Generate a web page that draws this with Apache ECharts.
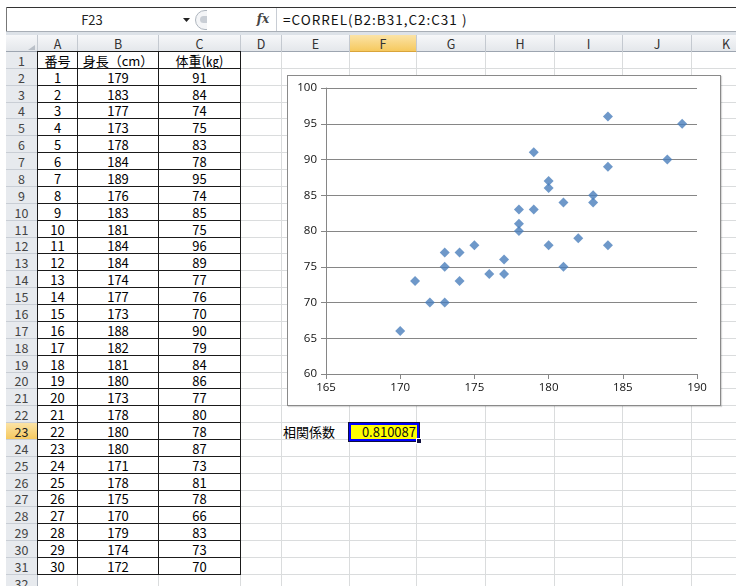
<!DOCTYPE html>
<html>
<head>
<meta charset="utf-8">
<script src="https://cdn.jsdelivr.net/npm/echarts/dist/echarts.min.js"></script>
<style>
body{margin:0;width:736px;height:586px;overflow:hidden;background:#fff;position:relative;
  font-family:"Noto Sans CJK JP","Noto Sans",sans-serif;color:#000}
.a{position:absolute;box-sizing:border-box;white-space:nowrap}
.c{display:flex;align-items:center;justify-content:center}
#chart{position:absolute;left:287px;top:75px;width:434px;height:331px;box-sizing:border-box;
  border:1px solid #8a8a8a;background:#fff;box-shadow:1px 1px 1px rgba(0,0,0,0.15)}
</style>
</head>
<body>
<div id="sheet"></div>
<div id="chart"></div>
<script>
// data
const ids = [1,2,3,4,5,6,7,8,9,10,11,12,13,14,15,16,17,18,19,20,21,22,23,24,25,26,27,28,29,30];
const heights = [179,183,177,173,178,184,189,176,183,181,184,184,174,177,173,188,182,181,180,173,178,180,180,171,178,175,170,179,174,172];
const weights = [91,84,74,75,83,78,95,74,85,75,96,89,77,76,70,90,79,84,86,77,80,78,87,73,81,78,66,83,73,70];
const headers = ['番号', '身長（cm）', '体重(㎏)'];
const colLetters = ['A','B','C','D','E','F','G','H','I','J','K'];
const xMin = 165, xMax = 190, xStep = 5;
const yMin = 60, yMax = 100, yStep = 5;
const nameBox = 'F23';
const formula = '=CORREL(B2:B31,C2:C31 )';
const correlLabel = '相関係数';
const correlValue = '0.810087';

// sheet layout
const colX = [38,78,159,241,282,350,417,486,555,623,692,761];
const rowTop = 52, rowH = 16.87;
const sheet = document.getElementById('sheet');
function box(x, y, w, h, css, text) {
    const d = document.createElement('div');
    d.className = 'a';
    d.style.cssText = `left:${x}px;top:${y}px;width:${w}px;height:${h}px;` + (css || '');
    if (text !== undefined) d.textContent = text;
    sheet.appendChild(d);
    return d;
}
const ry = r => Math.round(rowTop + (r - 1) * rowH);
const rh = r => ry(r + 1) - ry(r);

// formula bar
box(6, 7, 730, 1, 'background:#333');
box(6, 7, 1, 28, 'background:#777');
box(7, 8, 729, 23, 'background:#fff');
box(7, 8, 170, 23, 'font-size:13px;color:#222', nameBox).classList.add('c');
box(183, 18, 7, 4, 'clip-path:polygon(0 0,100% 0,50% 100%);background:#222');
box(195, 10, 22, 20, 'border:1px solid #aeb5be;border-radius:11px;background:#f4f5f7;clip-path:inset(0 45% 0 0)');
box(200, 16, 10, 7, 'border-radius:4px;background:#c9ced5;clip-path:inset(0 30% 0 0)');
box(255, 10, 16, 18, 'font-family:"DejaVu Serif",serif;font-style:italic;font-weight:bold;font-size:12px;color:#444', 'fx').classList.add('c');
box(276, 8, 1, 23, 'background:#c8cdd4');
box(283, 9, 300, 21, 'font-size:13.5px;line-height:21px;color:#111;letter-spacing:1px', formula);
box(6, 31, 730, 4, 'background:#dde2e8;border-top:1px solid #a8aeb6');

// column headers
box(6, 35, 730, 17, 'background:linear-gradient(#f6f7f9,#e4e7eb);border-bottom:1px solid #9da5b0');
box(6, 35, 32, 17, 'border-right:1px solid #c4c9d0');
box(28, 45, 7, 5, 'clip-path:polygon(100% 0,100% 100%,0 100%);background:#b9bfc7');
colLetters.forEach((L, i) => {
    const sel = L === 'F';
    const d = box(colX[i], 35, colX[i+1] - colX[i], 17,
        'font-size:12.5px;color:#333;border-right:1px solid #c4c9d0;' +
        (sel ? 'background:linear-gradient(#fbe3a6,#f6c95e);border-bottom:1px solid #d9a43a;' : ''), L);
    d.classList.add('c');
});

// gridlines
for (let r = 1; r <= 32; r++) {
    box(38, ry(r + 1) - 1, 698, 1, 'background:#dadcdd');
}
for (let i = 1; i < colX.length; i++) {
    box(colX[i] - 1, 52, 1, 534, 'background:#dadcdd');
}

// row headers
for (let r = 1; r <= 32; r++) {
    const sel = r === 23;
    const d = box(6, ry(r), 32, rh(r),
        'font-size:12.5px;color:#444;border-bottom:1px solid #c9ced5;border-right:1px solid #aab1bb;' +
        (sel ? 'background:linear-gradient(#fbe3a6,#f6c95e);color:#222;' : 'background:#e7eaee;'), String(r));
    d.classList.add('c');
}

// table A1:C31
const tableRows = [headers].concat(ids.map((n, i) => [n, heights[i], weights[i]]));
tableRows.forEach((row, ri) => {
    const r = ri + 1;
    row.forEach((v, ci) => {
        const d = box(colX[ci] - 1, ry(r) - 1, colX[ci+1] - colX[ci] + 1, rh(r) + 1,
            'border:1px solid #1a1a1a;font-size:13px;background:#fff', String(v));
        d.classList.add('c');
    });
});

// correlation cell
box(283, ry(23), 66, rh(23), 'font-size:13px;display:flex;align-items:center', correlLabel);
box(348, 422, 72, 20, 'border:1px solid #101040');
box(349, 423, 70, 18, 'border:2px solid #0000ff;background:#ffff00;font-size:13px;text-align:right;padding-right:1px;line-height:14px;color:#111', correlValue);
box(416, 438, 6, 6, 'background:#101040;border:1px solid #fff');

// chart
const chart = echarts.init(document.getElementById('chart'), null, {renderer: 'canvas'});
const points = heights.map((h, i) => [h, weights[i]]);
const axisColor = '#868686';
const labelFont = {color: '#111', fontSize: 11.5, fontFamily: 'Open Sans, Liberation Sans, sans-serif'};
chart.setOption({
    animation: false,
    grid: {left: 38, top: 12, right: 23, bottom: 31, containLabel: false, outerBoundsMode: 'none'},
    xAxis: {
        type: 'value', min: xMin, max: xMax, interval: xStep,
        axisLine: {show: true, onZero: false, lineStyle: {color: axisColor}},
        axisTick: {show: true, length: 5, lineStyle: {color: axisColor}},
        splitLine: {show: false},
        axisLabel: Object.assign({margin: 8}, labelFont)
    },
    yAxis: {
        type: 'value', min: yMin, max: yMax, interval: yStep,
        axisLine: {show: true, onZero: false, lineStyle: {color: axisColor}},
        axisTick: {show: true, length: 5, lineStyle: {color: axisColor}},
        splitLine: {show: true, lineStyle: {color: axisColor, width: 1}},
        axisLabel: Object.assign({margin: 9}, labelFont)
    },
    series: [{
        type: 'scatter',
        symbol: 'diamond',
        symbolSize: 10,
        itemStyle: {color: '#4a7ebb'},
        data: points
    }]
});
</script>
</body>
</html>
